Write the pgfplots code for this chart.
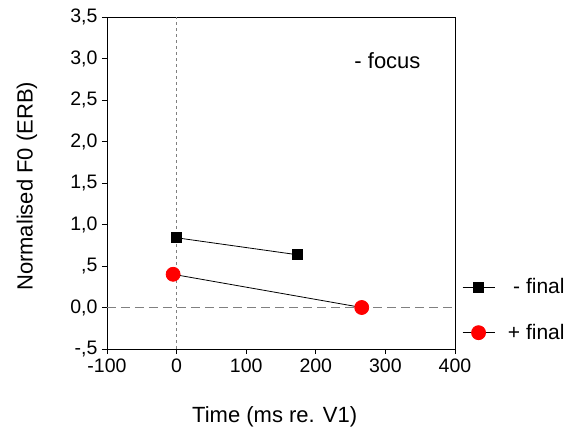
\documentclass[border=0pt]{standalone}
\usepackage{pgfplots}
\pgfplotsset{compat=1.18}
\usepackage{fontspec}
\setmainfont{Liberation Sans}
\begin{document}
\begin{tikzpicture}[x=1pt,y=1pt]
\path[use as bounding box] (-107,-82) rectangle (463,349);
\begin{axis}[
  scale only axis,
  width=348pt, height=332pt,
  xmin=-100, xmax=400, ymin=-0.5, ymax=3.5,
  xtick={-100,0,100,200,300,400},
  xticklabels={-100,0,100,200,300,400},
  ytick={-0.5,0,0.5,1,1.5,2,2.5,3,3.5},
  yticklabels={-{,}5,0{,}0,{,}5,1{,}0,1{,}5,2{,}0,2{,}5,3{,}0,3{,}5},
  tickpos=left, tick align=outside,
  major tick length=5pt,
  every tick/.style={black, line width=0.8pt},
  axis line style={line width=0.9pt},
  tick label style={font=\fontsize{19.5}{22}\selectfont},
  xticklabel style={yshift=-1pt},
  yticklabel style={xshift=-1pt},
  xlabel={Time (ms re. V1)},
  ylabel={Normalised F0 (ERB)},
  label style={font=\fontsize{22}{26}\selectfont},
  xlabel style={at={(axis description cs:0.482,-0.203)}, anchor=center},
  ylabel style={at={(axis description cs:-0.23,0.49)}, anchor=center},
  legend style={at={(axis description cs:1.02,0.118)}, anchor=west, draw=none, fill=none,
    font=\fontsize{21}{25}\selectfont, row sep=25pt, inner sep=0pt},
  legend cell align=right,
  legend image code/.code={
    \draw[#1, mark repeat=2, mark phase=2] plot coordinates {(0pt,0pt) (16pt,0pt) (32pt,0pt)};
  },
  clip=false,
]
\draw[gray, line width=0.6pt, dash pattern=on 3pt off 3pt] (axis cs:0,-0.5) -- (axis cs:0,3.5);
\draw[gray, line width=0.7pt, dash pattern=on 9pt off 5pt] (axis cs:-100,0) -- (axis cs:400,0);
\addplot[black, line width=0.8pt, mark=square*, mark size=5pt, mark options={solid, fill=black}]
  coordinates {(0,0.84) (174,0.635)};
\addlegendentry{- final}
\addplot[black, line width=0.8pt, mark=*, mark size=7pt, mark options={solid, draw=red, fill=red}]
  coordinates {(-5,0.40) (266,0.0)};
\addlegendentry{\hspace{11pt}+ final}
\node[font=\fontsize{22}{26}\selectfont] at (axis cs:303,2.98) {- focus};
\end{axis}
\end{tikzpicture}
\end{document}
